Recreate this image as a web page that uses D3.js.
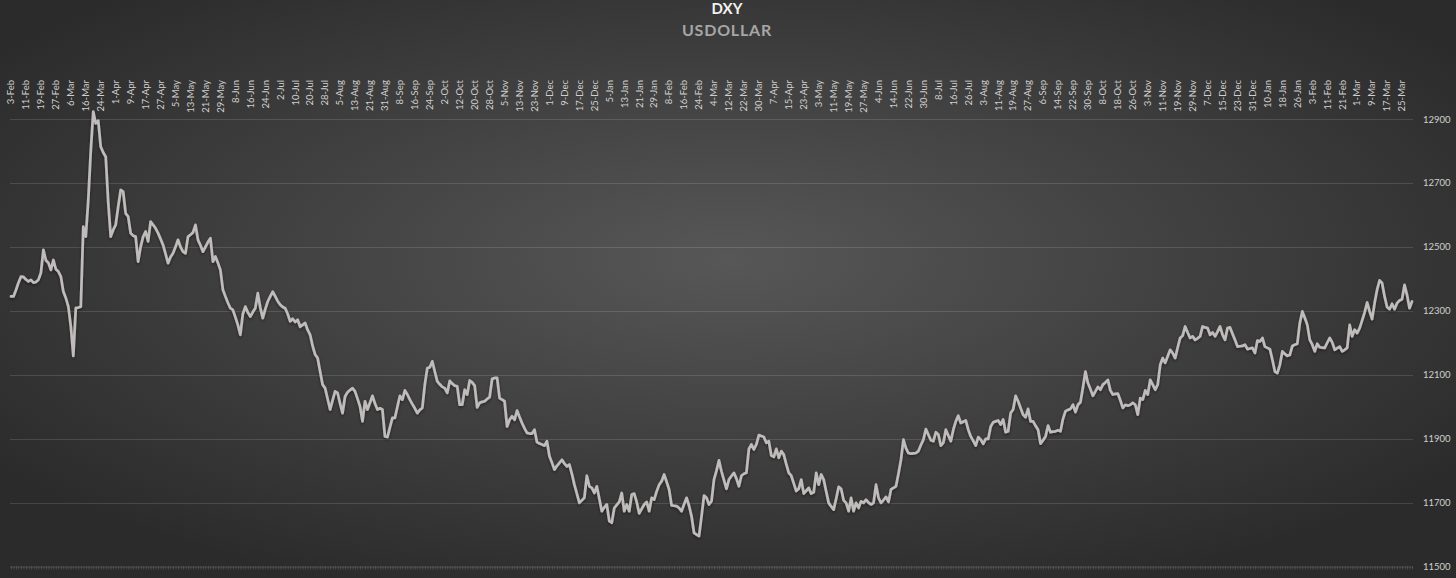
<!DOCTYPE html>
<html>
<head>
<meta charset="utf-8">
<script src="https://cdn.jsdelivr.net/npm/d3@7"></script>
<style>
  html, body { margin: 0; padding: 0; background: #333; }
  svg { display: block; }
</style>
</head>
<body>
<svg id="chart" width="1456" height="578"></svg>
<script>
// ---------------- DATA ----------------
const chartTitle = "DXY";
const chartSubtitle = "USDOLLAR";

const tickLabels = [
  "3-Feb","11-Feb","19-Feb","27-Feb","6-Mar","16-Mar","24-Mar","1-Apr","9-Apr","17-Apr",
  "27-Apr","5-May","13-May","21-May","29-May","8-Jun","16-Jun","24-Jun","2-Jul","10-Jul",
  "20-Jul","28-Jul","5-Aug","13-Aug","21-Aug","31-Aug","8-Sep","16-Sep","24-Sep","2-Oct",
  "12-Oct","20-Oct","28-Oct","5-Nov","13-Nov","23-Nov","1-Dec","9-Dec","17-Dec","25-Dec",
  "5-Jan","13-Jan","21-Jan","29-Jan","8-Feb","16-Feb","24-Feb","4-Mar","12-Mar","22-Mar",
  "30-Mar","7-Apr","15-Apr","23-Apr","3-May","11-May","19-May","27-May","4-Jun","14-Jun",
  "22-Jun","30-Jun","8-Jul","16-Jul","26-Jul","3-Aug","11-Aug","19-Aug","27-Aug","6-Sep",
  "14-Sep","22-Sep","30-Sep","8-Oct","18-Oct","26-Oct","3-Nov","11-Nov","19-Nov","29-Nov",
  "7-Dec","15-Dec","23-Dec","31-Dec","10-Jan","18-Jan","26-Jan","3-Feb","11-Feb","21-Feb",
  "1-Mar","9-Mar","17-Mar","25-Mar"
];
const labelEvery = 6;

const yTicks = [11500, 11700, 11900, 12100, 12300, 12500, 12700, 12900];

const usdollar = [
  12345,12345,12365,12388,12407,12406,12398,12392,12397,12388,
  12390,12397,12419,12491,12458,12450,12428,12459,12430,12423,
  12407,12360,12340,12313,12251,12159,12309,12310,12313,12563,
  12532,12647,12800,12923,12886,12895,12813,12795,12782,12640,
  12532,12553,12569,12626,12678,12673,12605,12595,12543,12535,
  12532,12454,12500,12532,12548,12517,12579,12569,12558,12543,
  12525,12506,12478,12449,12468,12480,12500,12522,12500,12485,
  12480,12532,12538,12545,12569,12522,12505,12485,12500,12515,
  12527,12454,12470,12450,12428,12366,12345,12325,12308,12303,
  12280,12256,12225,12290,12313,12295,12282,12296,12308,12355,
  12310,12277,12305,12329,12345,12360,12345,12330,12319,12312,
  12308,12290,12267,12275,12265,12272,12250,12256,12262,12240,
  12225,12190,12163,12152,12110,12069,12058,12025,11991,12020,
  12048,12043,12010,11980,12032,12045,12052,12058,12048,12025,
  12001,11954,12017,11991,12012,12034,12010,11991,11995,11991,
  11907,11905,11935,11965,11965,12000,12034,12022,12051,12038,
  12022,12008,11995,11980,11990,11996,12069,12121,12123,12142,
  12110,12079,12070,12062,12058,12043,12081,12072,12066,12064,
  12006,12006,12053,12038,12082,12076,12066,11998,12012,12015,
  12017,12024,12030,12087,12090,12090,12027,12022,12017,11938,
  11959,11970,11959,11988,11968,11949,11932,11918,11916,11916,
  11928,11889,11885,11882,11878,11892,11845,11825,11803,11815,
  11824,11834,11822,11813,11819,11790,11756,11728,11699,11707,
  11715,11784,11751,11746,11730,11751,11712,11673,11685,11694,
  11642,11637,11683,11693,11702,11730,11673,11694,11673,11725,
  11728,11702,11666,11680,11694,11702,11673,11715,11709,11735,
  11756,11767,11788,11765,11741,11691,11690,11689,11683,11673,
  11695,11715,11690,11657,11605,11600,11595,11657,11722,11715,
  11694,11704,11772,11800,11832,11798,11770,11743,11772,11783,
  11793,11775,11751,11784,11790,11793,11868,11882,11866,11882,
  11911,11908,11905,11887,11892,11847,11843,11868,11840,11861,
  11850,11820,11793,11784,11760,11736,11743,11772,11728,11737,
  11746,11728,11732,11793,11756,11788,11772,11735,11699,11688,
  11678,11712,11749,11743,11707,11699,11673,11715,11673,11699,
  11683,11704,11699,11709,11700,11694,11699,11756,11715,11699,
  11708,11718,11702,11741,11746,11751,11790,11834,11897,11870,
  11855,11853,11854,11855,11861,11880,11897,11930,11912,11895,
  11892,11920,11913,11878,11887,11928,11910,11892,11928,11954,
  11972,11949,11953,11957,11928,11907,11893,11878,11905,11897,
  11884,11899,11899,11938,11951,11954,11957,11944,11960,11920,
  11923,11980,11991,12034,12017,11996,11975,11967,11993,11954,
  11954,11940,11928,11884,11895,11907,11941,11920,11922,11923,
  11926,11923,11962,11986,11990,11993,12006,11983,12006,12014,
  12060,12110,12074,12055,12034,12048,12062,12053,12069,12076,
  12084,12051,12038,12040,12041,12020,11996,12006,12003,12006,
  12012,12006,11975,12027,12022,12051,12038,12084,12069,12053,
  12069,12131,12152,12137,12158,12178,12168,12152,12185,12215,
  12222,12251,12232,12215,12220,12209,12214,12220,12251,12248,
  12246,12225,12232,12220,12235,12251,12225,12209,12246,12248,
  12228,12209,12188,12189,12190,12194,12180,12182,12184,12168,
  12207,12204,12215,12188,12184,12180,12147,12110,12105,12131,
  12173,12165,12159,12162,12190,12194,12197,12262,12298,12278,
  12256,12209,12194,12173,12197,12186,12185,12184,12200,12215,
  12201,12178,12183,12188,12173,12178,12184,12256,12220,12241,
  12230,12246,12270,12295,12326,12298,12274,12324,12366,12395,
  12387,12345,12312,12305,12322,12305,12324,12332,12336,12381,
  12350,12308,12329
];

// ---------------- CHART ----------------
const W = 1456, H = 578;
const svg = d3.select("#chart");
const defs = svg.append("defs");

const bg = defs.append("radialGradient")
  .attr("id", "bg").attr("cx", "50%").attr("cy", "45%").attr("r", "62%")
  .attr("gradientUnits", "objectBoundingBox");
bg.append("stop").attr("offset", "0%").attr("stop-color", "#575757");
bg.append("stop").attr("offset", "100%").attr("stop-color", "#2b2b2b");

const shadow = defs.append("filter").attr("id", "shadow")
  .attr("x", "-5%").attr("y", "-5%").attr("width", "110%").attr("height", "110%");
shadow.append("feDropShadow").attr("dx", 0).attr("dy", 1.5)
  .attr("stdDeviation", 1.5).attr("flood-color", "#000").attr("flood-opacity", 0.45);

svg.append("rect").attr("width", W).attr("height", H).attr("fill", "url(#bg)");

const plot = { left: 10, right: 1413, top: 119, bottom: 566.5 };

const idx = d3.range(usdollar.length);
const x = d3.scalePoint().domain(idx).range([11, 1412]);
const y = d3.scaleLinear().domain([11500, 12900]).range([plot.bottom, plot.top]);

// gridlines
svg.append("g").selectAll("line").data(yTicks.filter(t => t !== 11500)).join("line")
  .attr("x1", plot.left).attr("x2", plot.right)
  .attr("y1", d => Math.round(y(d)) + 0.5).attr("y2", d => Math.round(y(d)) + 0.5)
  .attr("stroke", "#ffffff").attr("stroke-opacity", 0.13).attr("stroke-width", 1);

// bottom category axis (ticks only)
const xAxis = d3.axisBottom(x).tickSize(3).tickFormat("");
const gx = svg.append("g").attr("transform", `translate(0,${Math.round(plot.bottom) - 0.5})`).call(xAxis);
gx.select(".domain").attr("d", `M${plot.left},0.5H${plot.right}`).attr("stroke", "#ffffff").attr("stroke-opacity", 0.15);
gx.selectAll(".tick line").attr("stroke", "#ffffff").attr("stroke-opacity", 0.15);

// right value axis
const yAxis = d3.axisRight(y).tickValues(yTicks).tickSize(0).tickPadding(0).tickFormat(d3.format("d"));
const gy = svg.append("g").attr("transform", `translate(1423,0)`).call(yAxis);
gy.select(".domain").remove();
gy.selectAll("text").attr("fill", "#d0d0d0").attr("font-family", "Lato, 'Open Sans', sans-serif")
  .attr("font-size", 9.5);

// top labels (rotated)
const labelIdx = tickLabels.map((t, i) => i * labelEvery);
svg.append("g").selectAll("text").data(labelIdx).join("text")
  .attr("transform", d => `translate(${x(d)},80) rotate(-90)`)
  .attr("text-anchor", "end").attr("dy", "0.35em")
  .attr("fill", "#d0d0d0").attr("font-family", "Lato, 'Open Sans', sans-serif")
  .attr("font-size", 9.5)
  .text((d, i) => tickLabels[i]);

// line
const line = d3.line().x((d, i) => x(i)).y(d => y(d)).curve(d3.curveLinear);
svg.append("path").datum(usdollar)
  .attr("d", line).attr("fill", "none")
  .attr("stroke", "#c0bcbb").attr("stroke-width", 2.7)
  .attr("stroke-linejoin", "round").attr("stroke-linecap", "round")
  .attr("filter", "url(#shadow)");

// titles
svg.append("text").attr("x", 727).attr("y", 13.5).attr("text-anchor", "middle")
  .attr("fill", "#f2f2f2").attr("font-family", "Lato, 'Open Sans', sans-serif")
  .attr("font-weight", "bold").attr("font-size", 15).text(chartTitle);
svg.append("text").attr("x", 727).attr("y", 36).attr("text-anchor", "middle")
  .attr("fill", "#a6a6a6").attr("font-family", "Lato, 'Open Sans', sans-serif")
  .attr("font-weight", "bold").attr("font-size", 16).attr("letter-spacing", 0.8)
  .text(chartSubtitle);
</script>
</body>
</html>
